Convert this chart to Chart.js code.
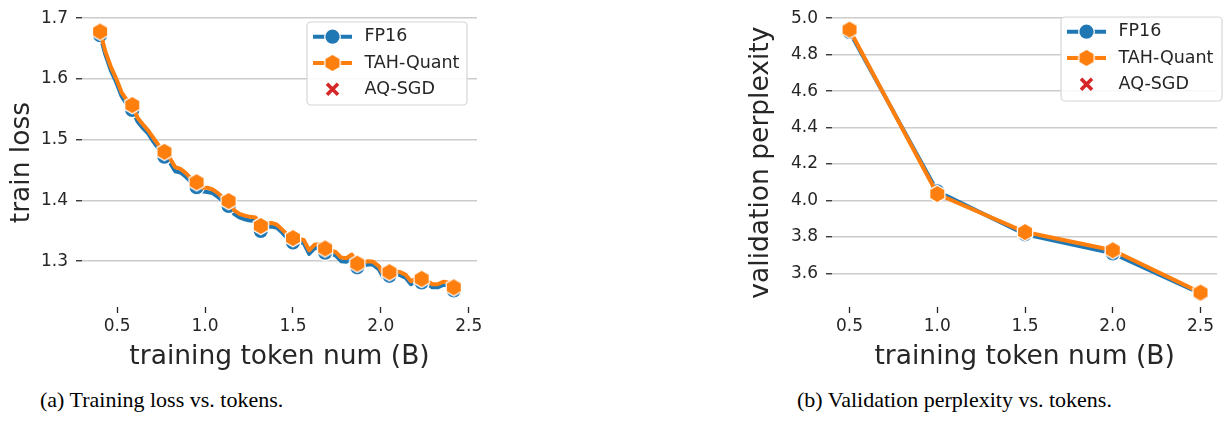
<!DOCTYPE html>
<html>
<head>
<meta charset="utf-8">
<script src="https://cdn.jsdelivr.net/npm/chart.js@4/dist/chart.umd.min.js"></script>
<style>
  body { margin: 0; background: #fff; width: 1230px; height: 423px; overflow: hidden; position: relative; }
  canvas { position: absolute; top: 0; }
  #lossChart { left: 0; }
  #pplChart { left: 740px; }
  .caption { position: absolute; top: 387px; font-family: "Liberation Serif", serif; font-size: 22px; color: #000; white-space: nowrap; }
</style>
</head>
<body>
<canvas id="lossChart" width="490" height="380"></canvas>
<canvas id="pplChart" width="490" height="380"></canvas>
<div class="caption" style="left:40px">(a) Training loss vs. tokens.</div>
<div class="caption" style="left:797px">(b) Validation perplexity vs. tokens.</div>
<script>
// training loss
const lossTokens = [
  0.403, 0.433, 0.464, 0.494, 0.525, 0.555, 0.586,
  0.616, 0.647, 0.677, 0.708, 0.738, 0.769,
  0.799, 0.830, 0.860, 0.891, 0.921, 0.952,
  0.982, 1.012, 1.043, 1.073, 1.104, 1.134,
  1.165, 1.195, 1.226, 1.256, 1.287, 1.317,
  1.348, 1.378, 1.409, 1.439, 1.470, 1.500,
  1.531, 1.561, 1.592, 1.622, 1.653, 1.683,
  1.714, 1.744, 1.774, 1.805, 1.835, 1.866,
  1.896, 1.927, 1.957, 1.988, 2.018, 2.049,
  2.079, 2.110, 2.140, 2.171, 2.201, 2.232,
  2.262, 2.293, 2.323, 2.354, 2.384, 2.415
];
const lossFP16 = [
  1.672, 1.640, 1.614, 1.595, 1.572, 1.558, 1.549,
  1.530, 1.519, 1.510, 1.496, 1.484, 1.472,
  1.463, 1.448, 1.446, 1.439, 1.430, 1.422,
  1.415, 1.414, 1.412, 1.406, 1.398, 1.391,
  1.378, 1.372, 1.369, 1.367, 1.366, 1.350,
  1.356, 1.357, 1.355, 1.347, 1.337, 1.331,
  1.332, 1.330, 1.312, 1.321, 1.323, 1.314,
  1.313, 1.309, 1.300, 1.299, 1.306, 1.290,
  1.292, 1.295, 1.294, 1.287, 1.271, 1.276,
  1.279, 1.277, 1.273, 1.262, 1.267, 1.265,
  1.263, 1.257, 1.257, 1.261, 1.260, 1.252
];
const lossTAH = [
  1.678, 1.645, 1.620, 1.601, 1.578, 1.565, 1.557,
  1.536, 1.525, 1.515, 1.502, 1.490, 1.480,
  1.470, 1.455, 1.452, 1.445, 1.436, 1.430,
  1.421, 1.421, 1.418, 1.412, 1.404, 1.399,
  1.384, 1.378, 1.375, 1.373, 1.372, 1.358,
  1.362, 1.363, 1.360, 1.352, 1.343, 1.338,
  1.337, 1.335, 1.318, 1.327, 1.328, 1.321,
  1.318, 1.315, 1.306, 1.305, 1.311, 1.296,
  1.298, 1.300, 1.299, 1.292, 1.277, 1.282,
  1.284, 1.282, 1.278, 1.267, 1.272, 1.271,
  1.268, 1.262, 1.262, 1.266, 1.265, 1.257
];
const markEvery = 6;

// validation perplexity, panel (b)
const pplTokens = [0.5, 1.0, 1.5, 2.0, 2.5];
const pplFP16 = [4.925, 4.050, 3.815, 3.710, 3.490];
const pplTAH = [4.937, 4.036, 3.827, 3.727, 3.495];

const seriesNames = ['FP16', 'TAH-Quant', 'AQ-SGD'];
const tokenTicks = [0.5, 1.0, 1.5, 2.0, 2.5];
const lossTicks = [1.3, 1.4, 1.5, 1.6, 1.7];
const pplTicks = [3.6, 3.8, 4.0, 4.2, 4.4, 4.6, 4.8, 5.0];

const BLUE = '#1f77b4', ORANGE = '#ff7f0e', RED = '#d62728', INK = '#262626';
Chart.defaults.font.family = 'DejaVu Sans';
Chart.defaults.color = INK;

function hexagon(r) {
  const c = document.createElement('canvas');
  const s = Math.ceil(2 * r + 4);
  c.width = s; c.height = s;
  const g = c.getContext('2d');
  g.beginPath();
  for (let k = 0; k < 6; k++) {
    const a = -Math.PI / 2 + k * Math.PI / 3;
    const px = s / 2 + r * Math.cos(a), py = s / 2 + r * Math.sin(a);
    if (k) g.lineTo(px, py); else g.moveTo(px, py);
  }
  g.closePath();
  g.fillStyle = ORANGE;
  g.fill();
  g.lineWidth = 1.3;
  g.strokeStyle = '#fff';
  g.stroke();
  return c;
}
const hexImg = hexagon(8.8);

// legend drawn inside the plot, matplotlib style
const boxLegend = {
  id: 'boxLegend',
  afterDraw(chart, args, opts) {
    const ctx = chart.ctx;
    const { x, y, w, h } = opts;
    ctx.save();
    ctx.beginPath();
    ctx.roundRect(x, y, w, h, 4);
    ctx.fillStyle = 'rgba(255,255,255,0.85)';
    ctx.fill();
    ctx.lineWidth = 1.2;
    ctx.strokeStyle = '#d6d6d6';
    ctx.stroke();
    chart.data.datasets.forEach((ds, k) => {
      const cy = y + 14.7 + k * 26.3;
      const mx = x + 25.5;
      if (ds.showLine !== false) {
        ctx.beginPath();
        ctx.moveTo(x + 6, cy);
        ctx.lineTo(x + 45, cy);
        ctx.lineWidth = 4;
        ctx.strokeStyle = ds.borderColor;
        ctx.stroke();
      }
      if (ds.marker === 'circle') {
        ctx.beginPath();
        ctx.arc(mx, cy, 7.8, 0, Math.PI * 2);
        ctx.fillStyle = BLUE;
        ctx.fill();
        ctx.lineWidth = 1.3;
        ctx.strokeStyle = '#fff';
        ctx.stroke();
      } else if (ds.marker === 'hex') {
        ctx.drawImage(hexImg, mx - hexImg.width / 2, cy - hexImg.height / 2);
      } else {
        ctx.beginPath();
        ctx.moveTo(mx - 5.5, cy - 5.5); ctx.lineTo(mx + 5.5, cy + 5.5);
        ctx.moveTo(mx + 5.5, cy - 5.5); ctx.lineTo(mx - 5.5, cy + 5.5);
        ctx.lineWidth = 3.6;
        ctx.strokeStyle = RED;
        ctx.stroke();
      }
      ctx.fillStyle = INK;
      ctx.font = '17.5px "DejaVu Sans"';
      ctx.textBaseline = 'middle';
      ctx.textAlign = 'left';
      ctx.fillText(ds.label, x + 57.5, cy);
    });
    ctx.restore();
  }
};

function xAxis(min, max) {
  return {
    type: 'linear', min, max,
    afterBuildTicks: a => { a.ticks = tokenTicks.map(v => ({ value: v })); },
    afterFit: a => { a.height = 73; },
    ticks: { font: { size: 17 }, padding: 3, autoSkip: false, maxRotation: 0, callback: v => v.toFixed(1) },
    grid: { drawOnChartArea: false, color: INK, tickColor: INK, tickLength: 6, tickWidth: 1.3 },
    border: { display: false },
    title: { display: true, text: 'training token num (B)', font: { size: 26.5 }, padding: { top: 0, bottom: 7 } }
  };
}

function yAxis(min, max, ticks, width, text, pad) {
  return {
    type: 'linear', min, max,
    afterBuildTicks: a => { a.ticks = ticks.map(v => ({ value: v })); },
    afterFit: a => { a.width = width; },
    ticks: { font: { size: 17 }, padding: 8, autoSkip: false, callback: v => v.toFixed(1) },
    grid: { color: '#cccccc', lineWidth: 1.5, tickColor: INK, tickLength: 6, tickWidth: 1.3 },
    border: { display: false },
    title: { display: true, text, font: { size: 26.5 }, padding: { top: pad, bottom: 0 } }
  };
}

function lineSets(xs, fp16, tah, every) {
  const pick = r => (c => (c.dataIndex % every === 0 ? r : 0));
  return [
    {
      label: seriesNames[0], marker: 'circle', order: 2,
      data: xs.map((v, i) => ({ x: v, y: fp16[i] })),
      borderColor: BLUE, backgroundColor: BLUE, borderWidth: 4,
      pointStyle: 'circle', pointRadius: pick(7.8), pointBorderColor: '#fff', pointBorderWidth: 1.3,
      borderJoinStyle: 'round', tension: 0
    },
    {
      label: seriesNames[1], marker: 'hex', order: 1,
      data: xs.map((v, i) => ({ x: v, y: tah[i] })),
      borderColor: ORANGE, backgroundColor: ORANGE, borderWidth: 4,
      pointStyle: hexImg, pointRadius: pick(8.8),
      borderJoinStyle: 'round', tension: 0
    },
    {
      label: seriesNames[2], marker: 'x', order: 0,
      data: [], showLine: false, borderColor: RED, backgroundColor: RED, pointStyle: 'crossRot'
    }
  ];
}

function makeChart(id, sets, scales, padding, legendBox) {
  return new Chart(document.getElementById(id), {
    type: 'line',
    data: { datasets: sets },
    options: {
      responsive: false,
      animation: false,
      events: [],
      clip: false,
      layout: { padding },
      scales,
      plugins: { legend: { display: false }, tooltip: { enabled: false }, boxLegend: legendBox }
    },
    plugins: [boxLegend]
  });
}

makeChart('lossChart',
  lineSets(lossTokens, lossFP16, lossTAH, markEvery),
  { x: xAxis(0.3, 2.547), y: yAxis(1.2246, 1.7, lossTicks, 82, 'train loss', 6) },
  { top: 15, right: 13, bottom: 0, left: 0 },
  { x: 307, y: 22, w: 160, h: 83 });

makeChart('pplChart',
  lineSets(pplTokens, pplFP16, pplTAH, 1),
  { x: xAxis(0.4, 2.595), y: yAxis(3.416, 5.0, pplTicks, 92, 'validation perplexity', 5) },
  { top: 11, right: 0, bottom: 0, left: 0 },
  { x: 321, y: 17, w: 161, h: 84 });
</script>
</body>
</html>
